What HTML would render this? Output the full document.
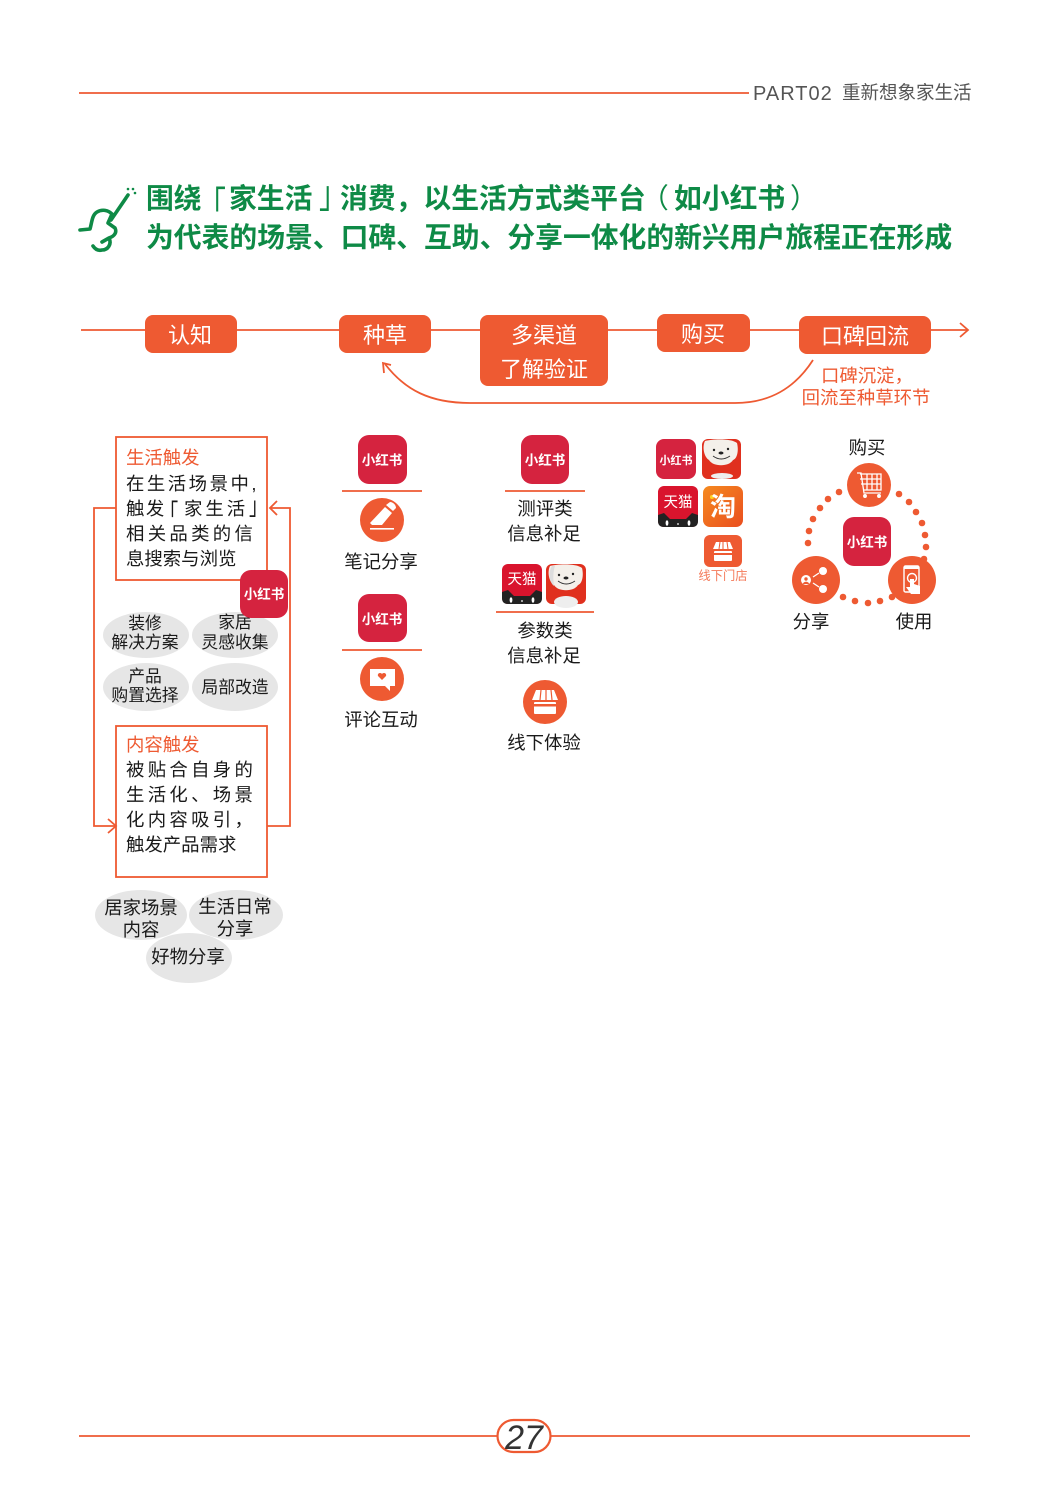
<!DOCTYPE html>
<html><head><meta charset="utf-8"><style>
html,body{margin:0;padding:0;background:#fff}
svg{display:block}
text{font-family:"Liberation Sans","Noto Sans CJK SC",sans-serif;fill:#1a1a1a}
.m{text-anchor:middle}
.w{fill:#fff}
.o{fill:#ee5a32}
.lg{fill:#fff;font-weight:bold;font-size:13.5px;text-anchor:middle}
.t{fill:#0e8a46;font-weight:bold;font-size:27.8px}
.b{font-size:18.4px}
</style></head><body>
<svg width="1050" height="1496" viewBox="0 0 1050 1496" xmlns="http://www.w3.org/2000/svg">
<defs><linearGradient id="tb" x1="0" y1="0" x2="1" y2="1"><stop offset="0" stop-color="#f58a1f"/><stop offset="1" stop-color="#ea4e1f"/></linearGradient></defs>
<rect width="1050" height="1496" fill="#fff"/>
<!-- header -->
<line x1="79" y1="93" x2="749" y2="93" stroke="#ee5a32" stroke-width="1.8"/>
<text x="753" y="100" font-size="20" letter-spacing="1" style="fill:#555">PART02</text>
<text x="842" y="99" font-size="18.5" style="fill:#555">重新想象家生活</text>
<!-- title -->
<g fill="none" stroke="#0e8a46" stroke-width="3.6" stroke-linecap="round" stroke-linejoin="round">
<path d="M128 195 L111 220"/>
<path d="M80 230 L90 229 C92 222 92 215 97 212 C102 209 108 210 112 214 L108 223 L115 228 C117 232 115 236 109 238 L102 242 M109 238 C112 244 108 250 102 250 C98 251 95 249 93 246"/>
</g>
<g fill="#0e8a46"><circle cx="128" cy="189" r="1.3"/><circle cx="133" cy="189" r="1.3"/><circle cx="135" cy="193" r="1.3"/></g>
<text class="t" x="146" y="208">围绕</text>
<text transform="translate(212,219) scale(1,1.36)" font-size="27.8" style="fill:#0e8a46">｢</text>
<text class="t" x="229" y="208">家生活</text>
<text transform="translate(319,207.5) scale(1,1.37)" font-size="27.8" style="fill:#0e8a46">｣</text>
<text class="t" x="340" y="208">消费，以生活方式类平台</text>
<text x="641" y="208" font-size="27.8" style="fill:#0e8a46">（</text>
<text class="t" x="674" y="208">如小红书</text>
<text x="790" y="208" font-size="27.8" style="fill:#0e8a46">）</text>
<text class="t" x="146" y="247">为代表的场景、口碑、互助、分享一体化的新兴用户旅程正在形成</text>
<!-- flow -->
<line x1="81" y1="330" x2="967" y2="330" stroke="#ee5a32" stroke-width="1.8"/>
<path d="M960 323 L968 330 L960 337" fill="none" stroke="#ee5a32" stroke-width="1.8"/>
<g fill="#ee5a32">
<rect x="145" y="315" width="92" height="38" rx="8"/>
<rect x="339" y="315" width="92" height="38" rx="8"/>
<rect x="480" y="315" width="128" height="71" rx="8"/>
<rect x="657" y="314" width="93" height="38" rx="8"/>
<rect x="799" y="316" width="132" height="38" rx="8"/>
</g>
<g font-size="22">
<text class="w m" x="190" y="343">认知</text>
<text class="w m" x="385" y="343">种草</text>
<text class="w m" x="544" y="343">多渠道</text>
<text class="w m" x="544" y="377">了解验证</text>
<text class="w m" x="703" y="342">购买</text>
<text class="w m" x="865" y="344">口碑回流</text>
</g>
<path d="M813 360 C795 388 770 403 735 403 L470 403 C430 403 405 390 385 364" fill="none" stroke="#ee5a32" stroke-width="1.8"/>
<path d="M391 365 L383 363 L384 373" fill="none" stroke="#ee5a32" stroke-width="1.8"/>
<text class="o" x="821" y="382" font-size="18.4">口碑沉淀，</text>
<text class="o m" x="866" y="404" font-size="18.4">回流至种草环节</text>
<!-- left column -->
<rect x="116" y="437" width="151" height="143" fill="#fff" stroke="#ee5a32" stroke-width="1.8"/>
<rect x="116" y="726" width="151" height="151" fill="#fff" stroke="#ee5a32" stroke-width="1.8"/>
<path d="M116 508 H94 V826 H115" fill="none" stroke="#ee5a32" stroke-width="1.8"/>
<path d="M108 819 L116 826 L108 833" fill="none" stroke="#ee5a32" stroke-width="1.8"/>
<path d="M267 826 H290 V508 H270" fill="none" stroke="#ee5a32" stroke-width="1.8"/>
<path d="M277 501 L270 508 L277 515" fill="none" stroke="#ee5a32" stroke-width="1.8"/>
<text class="o b" x="126" y="464">生活触发</text>
<text class="b" x="126" y="490" letter-spacing="2.5">在生活场景中,</text>
<text class="b" x="126" y="515" letter-spacing="1.5">触发</text>
<text class="b" transform="translate(169,522) scale(1,1.37)">｢</text>
<text class="b" x="184" y="515" letter-spacing="3">家生活</text>
<text class="b" transform="translate(249,514.6) scale(1,1.37)">｣</text>
<text class="b" x="126" y="540" letter-spacing="3.3">相关品类的信</text>
<text class="b" x="126" y="565">息搜索与浏览</text>
<text class="o b" x="126" y="751">内容触发</text>
<text class="b" x="126" y="776" letter-spacing="3.3">被贴合自身的</text>
<text class="b" x="126" y="801" letter-spacing="3.3">生活化、场景</text>
<text class="b" x="126" y="826" letter-spacing="3.3">化内容吸引，</text>
<text class="b" x="126" y="851">触发产品需求</text>
<g fill="#e6e6e6">
<ellipse cx="146" cy="635" rx="43" ry="23"/>
<ellipse cx="235" cy="635" rx="43" ry="23"/>
<ellipse cx="146" cy="687" rx="43" ry="24"/>
<ellipse cx="235" cy="687" rx="43" ry="24"/>
<ellipse cx="141" cy="915" rx="46" ry="25"/>
<ellipse cx="236" cy="915" rx="47" ry="25"/>
<ellipse cx="189" cy="958" rx="43" ry="25"/>
</g>
<g font-size="16.8">
<text class="m" x="145" y="629">装修</text>
<text class="m" x="145" y="648">解决方案</text>
<text class="m" x="235" y="628">家居</text>
<text class="m" x="235" y="648">灵感收集</text>
<text class="m" x="145" y="682">产品</text>
<text class="m" x="145" y="701">购置选择</text>
<text class="m" x="235" y="693">局部改造</text>
</g>
<g font-size="18.4">
<text class="m" x="141" y="914">居家场景</text>
<text class="m" x="141" y="936">内容</text>
<text class="m" x="235" y="913">生活日常</text>
<text class="m" x="235" y="935">分享</text>
<text class="m" x="188" y="963">好物分享</text>
</g>
<!-- logo left -->
<rect x="240" y="570" width="48" height="48" rx="11" fill="#d5233f"/>
<text class="lg" x="264" y="599">小红书</text>
<!-- col 2 -->
<rect x="358" y="435" width="49" height="49" rx="11" fill="#d5233f"/>
<text class="lg" x="382" y="465">小红书</text>
<line x1="342" y1="491" x2="422" y2="491" stroke="#ee5a32" stroke-width="1.8"/>
<circle cx="382" cy="520" r="22" fill="#ee5a32"/>
<g fill="#fff"><path d="M386 505 L390 502 C393 502 396 505 396 508 L393 511 Z"/><path d="M385 507 L392 513 L382 525 H372 L370 523 Z"/><rect x="370" y="528" width="24" height="1.6"/></g>
<text class="m" x="381" y="568" font-size="18.4">笔记分享</text>
<rect x="358" y="594" width="49" height="48" rx="11" fill="#d5233f"/>
<text class="lg" x="382" y="624">小红书</text>
<line x1="342" y1="650" x2="422" y2="650" stroke="#ee5a32" stroke-width="1.8"/>
<circle cx="382" cy="679" r="22" fill="#ee5a32"/>
<path d="M370 669 H395 V686 H390 L390 691 L385 686 H370 Z" fill="#fff"/>
<path d="M382 680 L378 676 C377 673 381 672 382 674 C383 672 387 673 386 676 Z" fill="#ee5a32"/>
<text class="m" x="381" y="726" font-size="18.4">评论互动</text>
<!-- col 3 -->
<rect x="521" y="435" width="48" height="49" rx="11" fill="#d5233f"/>
<text class="lg" x="545" y="465">小红书</text>
<line x1="505" y1="491" x2="585" y2="491" stroke="#ee5a32" stroke-width="1.8"/>
<text class="m" x="545" y="515" font-size="18.4">测评类</text>
<text class="m" x="544" y="540" font-size="18.4">信息补足</text>
<!-- tmall -->
<rect x="502" y="564" width="40" height="40" rx="6" fill="#d9142d"/>
<text class="w m" x="522" y="584" font-size="14.5">天猫</text>
<path d="M502 598 V592 L508 590 L514 596 H530 L536 590 L542 592 V598 C542 602 540 604 536 604 H508 C504 604 502 602 502 598Z" fill="#222"/>
<g fill="#fff"><ellipse cx="511" cy="600" rx="1.4" ry="2.8"/><ellipse cx="533" cy="600" rx="1.4" ry="2.8"/><circle cx="522" cy="601" r=".9"/></g>
<!-- jd -->
<rect x="546" y="564" width="40" height="40" rx="6" fill="#e0301e"/>
<path d="M550 566 C557 564 576 563 582 568 C584 576 582 584 578 585 C574 592 558 592 554 585 C549 582 547 572 550 566Z" fill="#f4f0ea"/>
<ellipse cx="566" cy="602" rx="12" ry="6" fill="#eee"/>
<path d="M552 566 C548 572 549 582 554 586 C553 578 553 572 555 566Z" fill="#ddd"/>
<circle cx="559" cy="575" r="1.2" fill="#222"/><circle cx="573" cy="574" r="1.2" fill="#222"/><ellipse cx="566" cy="578" rx="2.5" ry="1.5" fill="#222"/>
<path d="M558 581 Q566 587 575 581" fill="none" stroke="#333" stroke-width=".9"/>
<line x1="496" y1="612" x2="594" y2="612" stroke="#ee5a32" stroke-width="1.8"/>
<text class="m" x="545" y="637" font-size="18.4">参数类</text>
<text class="m" x="544" y="662" font-size="18.4">信息补足</text>
<circle cx="545" cy="702" r="22" fill="#ee5a32"/>
<g fill="#fff"><path d="M536 690 H554 L558 700 H532 Z"/><rect x="534" y="702" width="22" height="12" rx="1"/></g>
<path d="M541 690 L540 700 M546 690 V700 M551 690 L552 700" stroke="#ee5a32" stroke-width="1.2"/>
<rect x="530" y="704" width="30" height="2.5" fill="#ee5a32"/>
<text class="m" x="544" y="749" font-size="18.4">线下体验</text>
<!-- col 4 -->
<rect x="656" y="439" width="40" height="40" rx="8" fill="#d5233f"/>
<text class="lg" x="676" y="464" style="font-size:11px">小红书</text>
<rect x="702" y="439" width="39" height="40" rx="6" fill="#e0301e"/>
<path d="M705 441 C712 439 731 438 737 443 C739 451 737 459 733 460 C729 467 713 467 709 460 C704 457 702 447 705 441Z" fill="#f4f0ea"/>
<ellipse cx="722" cy="476" rx="11" ry="3" fill="#eee"/>
<circle cx="714" cy="450" r="1.2" fill="#222"/><circle cx="728" cy="449" r="1.2" fill="#222"/><ellipse cx="721" cy="453" rx="2.5" ry="1.5" fill="#222"/>
<path d="M713 456 Q721 462 730 456" fill="none" stroke="#333" stroke-width=".9"/>
<rect x="658" y="486" width="40" height="41" rx="6" fill="#d9142d"/>
<text class="w m" x="678" y="507" font-size="14.5">天猫</text>
<path d="M658 521 V515 L664 513 L670 519 H686 L692 513 L698 515 V521 C698 525 696 527 692 527 H664 C660 527 658 525 658 521Z" fill="#222"/>
<g fill="#fff"><ellipse cx="667" cy="523" rx="1.4" ry="2.8"/><ellipse cx="689" cy="523" rx="1.4" ry="2.8"/><circle cx="678" cy="524" r=".9"/></g>
<rect x="703" y="486" width="40" height="41" rx="7" fill="url(#tb)"/>
<circle cx="712" cy="497" r="2" fill="#ffd21f"/>
<text class="w m" x="723" y="516" font-size="26" font-weight="bold">淘</text>
<rect x="704" y="535" width="38" height="32" rx="6" fill="#ee5a32"/>
<g fill="#fff"><path d="M716 542 H730 L733 549 H713 Z"/><rect x="714" y="551" width="18" height="10" rx="1"/></g>
<path d="M720 542 L719 549 M723 542 V549 M727 542 L728 549" stroke="#ee5a32" stroke-width="1"/>
<rect x="711" y="553" width="24" height="2" fill="#ee5a32"/>
<text class="m" x="723" y="580" font-size="12.3" style="fill:#f47a5a">线下门店</text>
<!-- circle -->
<text class="m" x="867" y="454" font-size="18.4">购买</text>
<g fill="#ee5a32">
<circle cx="839" cy="492" r="3.3"/><circle cx="828" cy="499" r="3.3"/><circle cx="820" cy="508" r="3.3"/><circle cx="813" cy="519" r="3.3"/><circle cx="809" cy="531" r="3.3"/><circle cx="808" cy="543" r="3.3"/>
<circle cx="899" cy="494" r="3.3"/><circle cx="909" cy="502" r="3.3"/><circle cx="916" cy="512" r="3.3"/><circle cx="922" cy="523" r="3.3"/><circle cx="925" cy="535" r="3.3"/><circle cx="926" cy="547" r="3.3"/><circle cx="924" cy="559" r="3.3"/>
<circle cx="843" cy="597" r="3.3"/><circle cx="855" cy="601" r="3.3"/><circle cx="868" cy="603" r="3.3"/><circle cx="880" cy="601" r="3.3"/><circle cx="892" cy="597" r="3.3"/>
<circle cx="869" cy="485" r="22"/><circle cx="816" cy="580" r="24"/><circle cx="912" cy="580" r="24"/>
</g>
<g fill="none" stroke="#fff" stroke-width="1.3">
<path d="M857 473 H861 L864 493 H881"/>
<path d="M860 474 H881 V490 H863"/><path d="M860 479 H881 M861 484 H881 M867 474 V490 M872 474 V490 M877 474 V490"/>
<circle cx="865" cy="496" r="1.3" fill="#fff"/><circle cx="879" cy="496" r="1.3" fill="#fff"/>
</g>
<rect x="843" y="517" width="48" height="49" rx="11" fill="#d5233f"/>
<text class="lg" x="867" y="547">小红书</text>
<g fill="#fff">
<circle cx="823" cy="571" r="4"/><circle cx="823" cy="589" r="4"/><circle cx="806" cy="580" r="5"/>
</g>
<path d="M813 577 L819 573 M813 583 L819 587" stroke="#fff" stroke-width="1.3" fill="none"/>
<circle cx="806" cy="579" r="1.7" fill="#ee5a32"/><path d="M803 584 C803 581 809 581 809 584Z" fill="#ee5a32"/>
<rect x="904" y="566" width="15" height="26" rx="1.5" fill="none" stroke="#fff" stroke-width="1.4"/>
<rect x="904" y="566" width="15" height="3" fill="#fff"/>
<circle cx="912" cy="578" r="4.5" fill="none" stroke="#fff" stroke-width="1.4"/>
<path d="M910 579 H914 V584 L920 586 V594 H911 L906 587 L910 587 Z" fill="#fff"/>
<text class="m" x="811" y="628" font-size="18.4">分享</text>
<text class="m" x="914" y="628" font-size="18.4">使用</text>
<!-- footer -->
<line x1="79" y1="1436" x2="497" y2="1436" stroke="#ee5a32" stroke-width="1.8"/>
<line x1="551" y1="1436" x2="970" y2="1436" stroke="#ee5a32" stroke-width="1.8"/>
<rect x="497.5" y="1420" width="53" height="32" rx="16" fill="#fff" stroke="#ee5a32" stroke-width="2.2"/>
<text class="m" x="524" y="1449" font-size="34" font-style="italic" style="fill:#333">27</text>
</svg>
</body></html>
